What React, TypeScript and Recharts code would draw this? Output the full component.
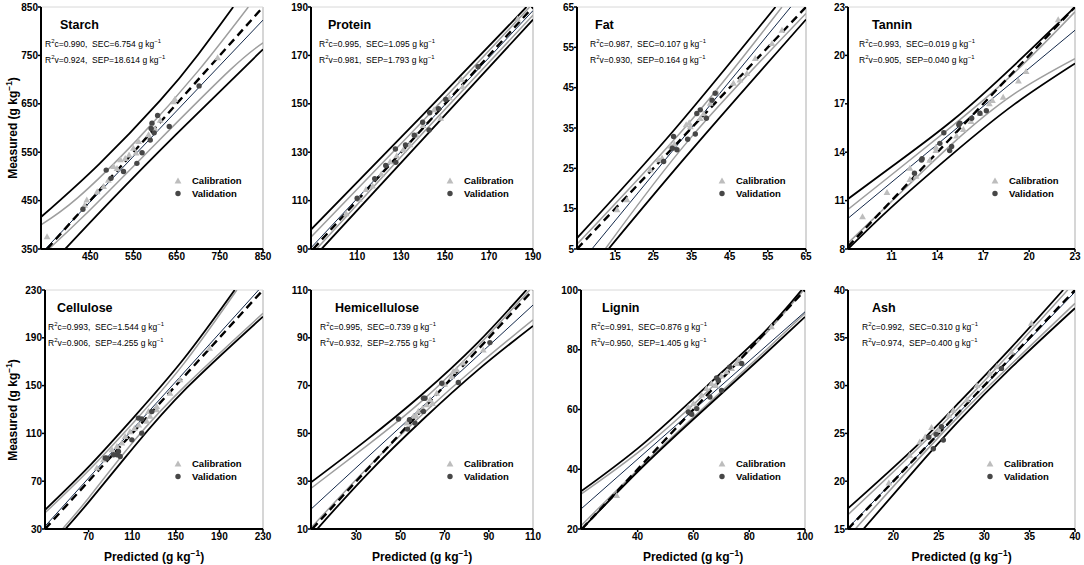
import React from 'react';
import { ComposedChart, Line, Scatter, XAxis, YAxis, ReferenceLine } from 'recharts';

type Pt = [number, number];

// ---- Starch ----
const starchCal: Pt[] = [[350, 375], [437, 440], [442, 451], [466, 468], [481, 479], [492, 492], [504, 520], [512, 516], [520, 534], [531, 537], [540, 544], [550, 558], [556, 548], [562, 572], [585, 586], [600, 598], [612, 616], [643, 654], [646, 659], [745, 745]];
const starchVal: Pt[] = [[433, 432], [487, 513], [498, 496], [527, 510], [558, 527], [570, 549], [589, 575], [598, 590], [591, 599], [593, 610], [606, 626], [633, 603], [702, 687]];
const starchUpperPI: Pt[] = [[336, 416], [470, 525], [611, 656], [700, 752], [781, 850]];
const starchLowerPI: Pt[] = [[392, 350], [500, 452], [650, 588], [850, 762.6]];
const starchUpperCI: Pt[] = [[336, 400], [420, 455], [560, 577], [700, 718], [816, 850]];
const starchLowerCI: Pt[] = [[354, 350], [435, 418], [600, 566], [774, 720], [850, 776]];
const starchFit: Pt[] = [[346, 350], [850, 823]];
const starchOne: Pt[] = [[350, 350], [850, 850]];

// ---- Protein ----
const proteinCal: Pt[] = [[105, 104.5], [111, 110.5], [114, 114.5], [117, 116], [121, 121], [125, 126], [128, 128.5], [131, 131], [134, 133], [137, 137], [140, 141], [145, 147.5], [148, 144], [152, 152.5], [157.4, 160], [158, 157], [183, 185]];
const proteinVal: Pt[] = [[110, 111], [118, 119], [123, 124.5], [127.4, 131.3], [127.6, 125.8], [132, 133], [136, 137], [139.8, 142.4], [142.7, 139.2], [143, 146.3], [147, 148], [150.3, 151.8], [165, 165.3]];
const proteinUpperPI: Pt[] = [[89, 98], [140, 145.5], [187, 190]];
const proteinLowerPI: Pt[] = [[93.8, 90], [140, 135.5], [190, 184.8]];
const proteinUpperCI: Pt[] = [[89, 94.9], [140, 143], [188.5, 190]];
const proteinLowerCI: Pt[] = [[91.5, 90], [140, 138], [190, 186.6]];
const proteinFit: Pt[] = [[89, 90.5], [190, 188.5]];
const proteinOne: Pt[] = [[90, 90], [190, 190]];

// ---- Fat ----
const fatCal: Pt[] = [[15.5, 14.7], [18.1, 17.2], [24.2, 24.6], [26.4, 27.1], [27.3, 27.5], [29.5, 30.5], [30.5, 31], [33.6, 35.8], [34.4, 36.3], [34.7, 35.3], [37.3, 37.3], [38.2, 38.5], [39.9, 41.1], [41.6, 43.9], [46, 46.1], [47.7, 46.9], [49.5, 48.5], [51.7, 52.2], [56.1, 55.9], [58.7, 59.2]];
const fatVal: Pt[] = [[27.7, 26.7], [30, 30], [30.3, 32.9], [31.2, 29.6], [34, 32.2], [36, 33.5], [36.4, 38.6], [37.3, 39.5], [38.9, 37.4], [40.4, 41.9], [41.2, 43.6]];
const fatUpperPI: Pt[] = [[5, 7.7], [30, 34], [57, 65]];
const fatLowerPI: Pt[] = [[13.25, 5], [35, 29.5], [65, 61.9]];
const fatUpperCI: Pt[] = [[5, 6.2], [35, 37], [58.7, 65]];
const fatLowerCI: Pt[] = [[12.4, 5], [35, 32.8], [65, 63.4]];
const fatFit: Pt[] = [[8.9, 5], [61, 65]];
const fatOne: Pt[] = [[5, 5], [65, 65]];

// ---- Tannin ----
const tanninCal: Pt[] = [[9.1, 10], [10.7, 11.5], [12.2, 12.3], [12.2, 13], [12.6, 12.5], [13.5, 13.5], [13.9, 14.1], [13.9, 14.3], [15.25, 15], [15.7, 15.4], [16.2, 15.9], [16.8, 16.4], [17.4, 17], [17.6, 17.2], [18.3, 17.4], [19.3, 18.4], [19.8, 19], [21.9, 22.2]];
const tanninVal: Pt[] = [[12.5, 12.7], [12.96, 13.52], [13, 13.6], [14.16, 14.55], [14.42, 15.21], [14.8, 14.1], [14.93, 14.35], [15.4, 15.7], [15.47, 15.79], [16.24, 16.1], [16.78, 16.41], [17.2, 16.57]];
const tanninUpperPI: Pt[] = [[8.15, 11.1], [11, 13.1], [15, 15.98], [19, 19.37], [23, 23]];
const tanninLowerPI: Pt[] = [[8.15, 8], [11, 10.6], [15, 13.9], [19, 16.95], [23, 19.5]];
const tanninUpperCI: Pt[] = [[8.15, 10.45], [11, 12.6], [15, 15.65], [19, 18.9], [23, 22.7]];
const tanninLowerCI: Pt[] = [[8.15, 8.37], [11, 10.95], [15, 14.55], [19, 17.6], [23, 19.8]];
const tanninFit: Pt[] = [[8.15, 9.9], [23, 21.56]];
const tanninOne: Pt[] = [[8.15, 8.15], [23, 23]];

// ---- Cellulose ----
const celluloseCal: Pt[] = [[77.6, 81], [83.7, 87.9], [91.4, 96.3], [96, 99], [100.5, 101.8], [103.5, 107.4], [108, 111.3], [112, 114], [116, 117], [123.4, 120], [124.9, 128.3], [126.4, 124.2], [132.5, 129.7], [132.5, 132.5], [144.7, 143.6], [153.8, 154.8], [181, 181.2]];
const celluloseVal: Pt[] = [[85.3, 89.4], [86.8, 89.3], [92.9, 92.1], [96, 92.1], [97.4, 94.9], [99, 90.7], [109.7, 104.6], [115.7, 122.8], [118.8, 122], [118.8, 110.2], [128, 128.3]];
const celluloseUpperPI: Pt[] = [[30, 46], [70, 82], [111, 123], [157, 172], [204, 230]];
const celluloseLowerPI: Pt[] = [[48.7, 30], [70, 52.5], [111, 98], [160, 148], [230, 207.7]];
const celluloseUpperCI: Pt[] = [[30, 43.5], [70, 79], [111, 119], [157, 168], [206, 230]];
const celluloseLowerCI: Pt[] = [[46, 30], [70, 56], [111, 103], [160, 151], [230, 210.5]];
const celluloseFit: Pt[] = [[30, 32.3], [226, 230]];
const celluloseOne: Pt[] = [[30, 30], [230, 230]];

// ---- Hemicellulose ----
const hemiCal: Pt[] = [[52.9, 54.3], [55.9, 57.1], [57, 57.5], [58.1, 59.2], [60, 60.5], [61.9, 61.9], [63.4, 64], [64.5, 62.5], [66.4, 66.8], [70, 70.5], [73.2, 73.8], [73.9, 75.9], [75.4, 76.6], [78.4, 79.4], [87.5, 84.9]];
const hemiVal: Pt[] = [[49.1, 56], [53.2, 51.8], [54.1, 55.7], [56.6, 54.3], [60.4, 59.2], [60.4, 64.7], [61.1, 64.7], [68.7, 71], [76.2, 71.3], [90.5, 88]];
const hemiUpperPI: Pt[] = [[9.5, 29.5], [35, 47.5], [60, 66.5], [85, 88], [107, 110]];
const hemiLowerPI: Pt[] = [[12.3, 10], [35, 33], [60, 55.7], [85, 76.5], [110, 95]];
const hemiUpperCI: Pt[] = [[9.5, 27], [35, 45], [60, 63.8], [85, 86.5], [108.5, 110]];
const hemiLowerCI: Pt[] = [[9.5, 10.5], [35, 35.5], [60, 58], [85, 78.5], [110, 97.5]];
const hemiFit: Pt[] = [[9.5, 18.3], [110, 103.7]];
const hemiOne: Pt[] = [[10, 10], [110, 110]];

// ---- Lignin ----
const ligninCal: Pt[] = [[32.5, 31.2], [58.2, 60.8], [60, 62], [61, 61], [62.9, 64.8], [64.7, 67], [66.5, 68.7], [68, 68], [70, 71.2], [71.9, 72.6], [73.7, 73.7], [75.5, 75.4], [76.1, 76.5], [88, 87.7]];
const ligninVal: Pt[] = [[58.2, 59.2], [59.4, 58.4], [61.2, 60.3], [65.9, 64.2], [68.3, 70.6], [68.9, 69.8], [70.1, 66.4], [73, 74.2], [77.3, 75.4]];
const ligninUpperPI: Pt[] = [[19.7, 32.6], [42, 48.5], [65, 68], [85, 85.5], [98.8, 100]];
const ligninLowerPI: Pt[] = [[20, 20], [42, 41], [65, 61], [85, 78], [100, 91]];
const ligninUpperCI: Pt[] = [[19.7, 31.7], [42, 47], [65, 66], [85, 84.5], [99.5, 100]];
const ligninLowerCI: Pt[] = [[19.7, 21.1], [42, 41.6], [65, 61.7], [85, 79], [100, 92.2]];
const ligninFit: Pt[] = [[19.7, 26.7], [100, 92.7]];
const ligninOne: Pt[] = [[20, 20], [100, 100]];

// ---- Ash ----
const ashCal: Pt[] = [[19.5, 19.8], [21.8, 22.7], [22.9, 24.1], [23.5, 24.6], [24.2, 25.6], [25, 25.3], [26.1, 26.9], [26.6, 27.4], [28.1, 28.5], [29.2, 30], [30.6, 31.25], [31.4, 32], [33, 33.5], [35.2, 36.5]];
const ashVal: Pt[] = [[23.9, 24.6], [24.4, 23.4], [24.7, 24.9], [25.3, 25.7], [25.5, 24.3], [31.9, 31.8]];
const ashUpperPI: Pt[] = [[15, 17.15], [22, 23.2], [27, 28], [33, 34], [38.7, 40]];
const ashLowerPI: Pt[] = [[16.7, 15], [22, 20.8], [27, 26.1], [33, 31.9], [40, 38.1]];
const ashUpperCI: Pt[] = [[15, 16.5], [27, 27.5], [39.2, 40]];
const ashLowerCI: Pt[] = [[15.8, 15], [27, 26.6], [40, 38.6]];
const ashFit: Pt[] = [[15, 15.1], [40, 39.8]];
const ashOne: Pt[] = [[15, 15], [40, 40]];

// axis ticks
const starchXTicks = [450, 550, 650, 750, 850];
const starchYTicks = [350, 450, 550, 650, 750, 850];
const proteinXTicks = [110, 130, 150, 170, 190];
const proteinYTicks = [90, 110, 130, 150, 170, 190];
const fatXTicks = [15, 25, 35, 45, 55, 65];
const fatYTicks = [5, 15, 25, 35, 45, 55, 65];
const tanninXTicks = [11, 14, 17, 20, 23];
const tanninYTicks = [8, 11, 14, 17, 20, 23];
const celluloseXTicks = [70, 110, 150, 190, 230];
const celluloseYTicks = [30, 70, 110, 150, 190, 230];
const hemiXTicks = [30, 50, 70, 90, 110];
const hemiYTicks = [10, 30, 50, 70, 90, 110];
const ligninXTicks = [40, 60, 80, 100];
const ligninYTicks = [20, 40, 60, 80, 100];
const ashXTicks = [20, 25, 30, 35, 40];
const ashYTicks = [15, 20, 25, 30, 35, 40];

// statistics: R2c, SEC, R2v, SEP
const starchStats = ['0.990', '6.754', '0.924', '18.614'];
const proteinStats = ['0.995', '1.095', '0.981', '1.793'];
const fatStats = ['0.987', '0.107', '0.930', '0.164'];
const tanninStats = ['0.993', '0.019', '0.905', '0.040'];
const celluloseStats = ['0.993', '1.544', '0.906', '4.255'];
const hemiStats = ['0.995', '0.739', '0.932', '2.755'];
const ligninStats = ['0.991', '0.876', '0.950', '1.405'];
const ashStats = ['0.992', '0.310', '0.974', '0.400'];

const FONT = "'Liberation Sans', Arial, Helvetica, sans-serif";
const YW = 36;
const XH = 20;
const MT = 8;
const MR = 12;

interface PanelDef {
  name: string;
  box: [number, number, number, number];
  xDomain: [number, number];
  yDomain: [number, number];
  xTicks: number[];
  yTicks: number[];
  stats: string[];
  cal: Pt[];
  val: Pt[];
  upperPI: Pt[];
  lowerPI: Pt[];
  upperCI: Pt[];
  lowerCI: Pt[];
  fit: Pt[];
  one: Pt[];
  // overlay text offsets inside the plot area
  titleX: number;
  statsX: number;
  legendX: number;
}

const panels: PanelDef[] = [
  { name: 'Starch', box: [41, 7, 222, 242], xDomain: [336, 850], yDomain: [350, 850], xTicks: starchXTicks, yTicks: starchYTicks, stats: starchStats, cal: starchCal, val: starchVal, upperPI: starchUpperPI, lowerPI: starchLowerPI, upperCI: starchUpperCI, lowerCI: starchLowerCI, fit: starchFit, one: starchOne, titleX: 19, statsX: 4, legendX: 137 },
  { name: 'Protein', box: [311, 7, 222, 242], xDomain: [89, 190], yDomain: [90, 190], xTicks: proteinXTicks, yTicks: proteinYTicks, stats: proteinStats, cal: proteinCal, val: proteinVal, upperPI: proteinUpperPI, lowerPI: proteinLowerPI, upperCI: proteinUpperCI, lowerCI: proteinLowerCI, fit: proteinFit, one: proteinOne, titleX: 17, statsX: 8, legendX: 139 },
  { name: 'Fat', box: [577, 7, 229, 242], xDomain: [5, 65], yDomain: [5, 65], xTicks: fatXTicks, yTicks: fatYTicks, stats: fatStats, cal: fatCal, val: fatVal, upperPI: fatUpperPI, lowerPI: fatLowerPI, upperCI: fatUpperCI, lowerCI: fatLowerCI, fit: fatFit, one: fatOne, titleX: 18, statsX: 13, legendX: 145 },
  { name: 'Tannin', box: [848, 7, 227, 242], xDomain: [8.15, 23], yDomain: [8, 23], xTicks: tanninXTicks, yTicks: tanninYTicks, stats: tanninStats, cal: tanninCal, val: tanninVal, upperPI: tanninUpperPI, lowerPI: tanninLowerPI, upperCI: tanninUpperCI, lowerCI: tanninLowerCI, fit: tanninFit, one: tanninOne, titleX: 24, statsX: 11, legendX: 147 },
  { name: 'Cellulose', box: [45, 290, 218, 239], xDomain: [30, 230], yDomain: [30, 230], xTicks: celluloseXTicks, yTicks: celluloseYTicks, stats: celluloseStats, cal: celluloseCal, val: celluloseVal, upperPI: celluloseUpperPI, lowerPI: celluloseLowerPI, upperCI: celluloseUpperCI, lowerCI: celluloseLowerCI, fit: celluloseFit, one: celluloseOne, titleX: 12, statsX: 3, legendX: 133 },
  { name: 'Hemicellulose', box: [311, 290, 222, 239], xDomain: [9.5, 110], yDomain: [10, 110], xTicks: hemiXTicks, yTicks: hemiYTicks, stats: hemiStats, cal: hemiCal, val: hemiVal, upperPI: hemiUpperPI, lowerPI: hemiLowerPI, upperCI: hemiUpperCI, lowerCI: hemiLowerCI, fit: hemiFit, one: hemiOne, titleX: 24, statsX: 9, legendX: 139 },
  { name: 'Lignin', box: [581, 290, 224, 239], xDomain: [19.7, 100], yDomain: [20, 100], xTicks: ligninXTicks, yTicks: ligninYTicks, stats: ligninStats, cal: ligninCal, val: ligninVal, upperPI: ligninUpperPI, lowerPI: ligninLowerPI, upperCI: ligninUpperCI, lowerCI: ligninLowerCI, fit: ligninFit, one: ligninOne, titleX: 21, statsX: 10, legendX: 141 },
  { name: 'Ash', box: [848, 290, 227, 239], xDomain: [15, 40], yDomain: [15, 40], xTicks: ashXTicks, yTicks: ashYTicks, stats: ashStats, cal: ashCal, val: ashVal, upperPI: ashUpperPI, lowerPI: ashLowerPI, upperCI: ashUpperCI, lowerCI: ashLowerCI, fit: ashFit, one: ashOne, titleX: 24, statsX: 14, legendX: 142 },
];

const toXY = (arr: Pt[]) => arr.map(([x, y]) => ({ x, y }));

const CAL_FILL = '#bdbdbd';
const VAL_FILL = '#474747';

const Triangle = (props: any) => {
  const { cx, cy } = props;
  if (cx == null || cy == null) return null;
  return <polygon points={`${cx},${cy - 3.6} ${cx - 3.4},${cy + 2.4} ${cx + 3.4},${cy + 2.4}`} fill={CAL_FILL} />;
};

const Dot = (props: any) => {
  const { cx, cy } = props;
  if (cx == null || cy == null) return null;
  return <circle cx={cx} cy={cy} r={2.7} fill={VAL_FILL} />;
};

const sup: React.CSSProperties = { fontSize: '0.7em', verticalAlign: 'super', lineHeight: 0 };

function Panel({ p }: { p: PanelDef }) {
  const [px, py, pw, ph] = p.box;
  const tickStyle = { fontSize: 10, fontWeight: 700, fill: '#000', fontFamily: FONT };
  const band = (key: string, pts: Pt[], stroke: string, width: number) => (
    <Line
      key={key}
      data={toXY(pts)}
      dataKey="y"
      type="natural"
      stroke={stroke}
      strokeWidth={width}
      dot={false}
      activeDot={false}
      isAnimationActive={false}
      legendType="none"
    />
  );
  return (
    <div style={{ position: 'absolute', left: px, top: py, width: pw, height: ph }}>
      <div style={{ position: 'absolute', left: -YW, top: -MT }}>
        <ComposedChart width={YW + pw + MR} height={MT + ph + XH} margin={{ top: MT, right: MR, bottom: 0, left: 0 }}>
          <XAxis
            type="number"
            dataKey="x"
            domain={p.xDomain}
            ticks={p.xTicks}
            interval={0}
            allowDataOverflow
            height={XH}
            tick={tickStyle}
            tickSize={3}
            tickMargin={1}
            axisLine={{ stroke: '#000', strokeWidth: 2 }}
            tickLine={{ stroke: '#000', strokeWidth: 1.5 }}
          />
          <YAxis
            type="number"
            dataKey="y"
            domain={p.yDomain}
            ticks={p.yTicks}
            interval={0}
            allowDataOverflow
            width={YW}
            tick={tickStyle}
            tickSize={3}
            tickMargin={0}
            axisLine={{ stroke: '#000', strokeWidth: 2 }}
            tickLine={{ stroke: '#000', strokeWidth: 1.5 }}
          />
          <ReferenceLine x={p.xDomain[1]} stroke="#c8c8c8" strokeWidth={1.5} />
          <ReferenceLine y={p.yDomain[1]} stroke="#d8d8d8" strokeWidth={1} />
          {band('ucl', p.upperCI, '#9e9e9e', 1.5)}
          {band('lcl', p.lowerCI, '#9e9e9e', 1.5)}
          {band('upl', p.upperPI, '#000', 1.8)}
          {band('lpl', p.lowerPI, '#000', 1.8)}
          <Scatter data={toXY(p.cal)} shape={<Triangle />} isAnimationActive={false} legendType="none" />
          <Scatter data={toXY(p.val)} shape={<Dot />} isAnimationActive={false} legendType="none" />
          {band('fit', p.fit, '#14294a', 1)}
          <Line
            data={toXY(p.one)}
            dataKey="y"
            type="linear"
            stroke="#000"
            strokeWidth={2.4}
            strokeDasharray="8 5"
            dot={false}
            activeDot={false}
            isAnimationActive={false}
            legendType="none"
          />
        </ComposedChart>
      </div>
      <div style={{ position: 'absolute', left: p.titleX, top: 10, fontSize: 12.5, fontWeight: 700, lineHeight: '16px', whiteSpace: 'nowrap' }}>
        {p.name}
      </div>
      <div style={{ position: 'absolute', left: p.statsX, top: 29, fontSize: 8.5, lineHeight: '16px', whiteSpace: 'pre' }}>
        <div>
          R<span style={sup}>2</span>c={p.stats[0]},  SEC={p.stats[1]} g kg<span style={sup}>−1</span>
        </div>
        <div>
          R<span style={sup}>2</span>v={p.stats[2]},  SEP={p.stats[3]} g kg<span style={sup}>−1</span>
        </div>
      </div>
      <svg style={{ position: 'absolute', left: p.legendX - 4, top: 170 }} width={8} height={22}>
        <polygon points="4,0.5 0.6,6.5 7.4,6.5" fill={CAL_FILL} />
        <circle cx={4} cy={16.5} r={2.7} fill={VAL_FILL} />
      </svg>
      <div style={{ position: 'absolute', left: p.legendX + 14, top: 167, fontSize: 9.5, fontWeight: 700, lineHeight: '13px', whiteSpace: 'nowrap' }}>
        <div>Calibration</div>
        <div>Validation</div>
      </div>
    </div>
  );
}

const AxisTitle = ({ text }: { text: string }) => (
  <span>
    {text} (g kg<span style={sup}>−1</span>)
  </span>
);

export default function App() {
  const measuredRows = [128, 409.5];
  const predictedCols = [154, 422, 693, 961.5];
  return (
    <div style={{ position: 'absolute', left: 0, top: 0, width: 1084, height: 565, background: '#fff', fontFamily: FONT, color: '#000', overflow: 'hidden' }}>
      {panels.map((p) => (
        <Panel key={p.name} p={p} />
      ))}
      {measuredRows.map((cy) => (
        <div
          key={cy}
          style={{ position: 'absolute', left: 13, top: cy, transform: 'translate(-50%, -50%) rotate(-90deg)', fontSize: 12, fontWeight: 700, whiteSpace: 'nowrap' }}
        >
          <AxisTitle text="Measured" />
        </div>
      ))}
      {predictedCols.map((cx) => (
        <div
          key={cx}
          style={{ position: 'absolute', left: cx, top: 556.5, transform: 'translate(-50%, -50%)', fontSize: 12, fontWeight: 700, whiteSpace: 'nowrap' }}
        >
          <AxisTitle text="Predicted" />
        </div>
      ))}
    </div>
  );
}
